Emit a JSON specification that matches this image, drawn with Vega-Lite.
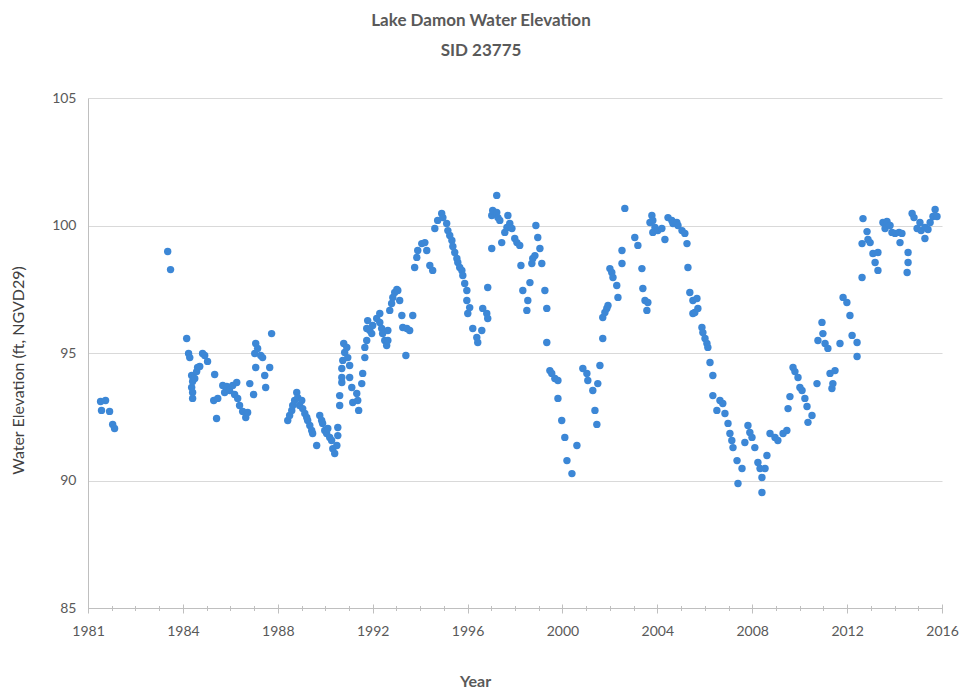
{
  "$schema": "https://vega.github.io/schema/vega-lite/v6.json",
  "width": 854,
  "height": 510,
  "autosize": {"type": "none"},
  "padding": {"left": 88, "top": 98, "right": 20, "bottom": 86},
  "background": "white",
  "config": {"font": "Lato", "view": {"stroke": null}},
  "title": {
    "text": ["Lake Damon Water Elevation", "SID 23775"],
    "fontSize": 17,
    "fontWeight": "bold",
    "color": "#595959",
    "anchor": "middle",
    "dx": -34,
    "lineHeight": 30,
    "offset": 31
  },
  "data": {
    "values": [
      {"year": 1981.53, "elevation": 93.10}, {"year": 1981.74, "elevation": 93.14}, {"year": 1981.57, "elevation": 92.75},
      {"year": 1981.91, "elevation": 92.71}, {"year": 1982.04, "elevation": 92.20}, {"year": 1982.12, "elevation": 92.04},
      {"year": 1984.36, "elevation": 98.98}, {"year": 1984.48, "elevation": 98.27},
      {"year": 1985.16, "elevation": 95.57}, {"year": 1985.24, "elevation": 94.98}, {"year": 1985.29, "elevation": 94.82},
      {"year": 1985.37, "elevation": 94.12}, {"year": 1985.37, "elevation": 93.65}, {"year": 1985.41, "elevation": 93.88},
      {"year": 1985.41, "elevation": 93.45}, {"year": 1985.41, "elevation": 93.22}, {"year": 1985.50, "elevation": 94.00},
      {"year": 1985.58, "elevation": 94.27}, {"year": 1985.62, "elevation": 94.43}, {"year": 1985.71, "elevation": 94.47},
      {"year": 1985.83, "elevation": 94.98}, {"year": 1985.92, "elevation": 94.90}, {"year": 1986.04, "elevation": 94.67},
      {"year": 1986.30, "elevation": 93.14}, {"year": 1986.34, "elevation": 94.16}, {"year": 1986.42, "elevation": 92.43},
      {"year": 1986.47, "elevation": 93.22}, {"year": 1986.68, "elevation": 93.73}, {"year": 1986.76, "elevation": 93.45},
      {"year": 1986.85, "elevation": 93.69}, {"year": 1986.97, "elevation": 93.53}, {"year": 1987.10, "elevation": 93.73},
      {"year": 1987.18, "elevation": 93.37}, {"year": 1987.27, "elevation": 93.84}, {"year": 1987.31, "elevation": 93.22},
      {"year": 1987.39, "elevation": 92.94}, {"year": 1987.52, "elevation": 92.71}, {"year": 1987.65, "elevation": 92.47},
      {"year": 1987.73, "elevation": 92.67}, {"year": 1987.82, "elevation": 93.80}, {"year": 1987.98, "elevation": 93.37},
      {"year": 1988.03, "elevation": 94.98}, {"year": 1988.07, "elevation": 95.37}, {"year": 1988.07, "elevation": 94.43},
      {"year": 1988.15, "elevation": 95.18}, {"year": 1988.28, "elevation": 94.90}, {"year": 1988.36, "elevation": 94.82},
      {"year": 1988.45, "elevation": 94.12}, {"year": 1988.49, "elevation": 93.65}, {"year": 1988.66, "elevation": 94.43},
      {"year": 1988.74, "elevation": 95.76},
      {"year": 1989.42, "elevation": 92.35}, {"year": 1989.50, "elevation": 92.55}, {"year": 1989.59, "elevation": 92.75},
      {"year": 1989.63, "elevation": 92.94}, {"year": 1989.71, "elevation": 93.14}, {"year": 1989.80, "elevation": 93.45},
      {"year": 1989.84, "elevation": 93.25}, {"year": 1989.92, "elevation": 92.94}, {"year": 1990.01, "elevation": 93.14},
      {"year": 1990.05, "elevation": 92.82}, {"year": 1990.14, "elevation": 92.63}, {"year": 1990.22, "elevation": 92.47},
      {"year": 1990.26, "elevation": 92.35}, {"year": 1990.35, "elevation": 92.16}, {"year": 1990.43, "elevation": 91.96},
      {"year": 1990.47, "elevation": 91.84}, {"year": 1990.64, "elevation": 91.37}, {"year": 1990.77, "elevation": 92.55},
      {"year": 1990.85, "elevation": 92.35}, {"year": 1990.89, "elevation": 92.24}, {"year": 1990.98, "elevation": 91.96},
      {"year": 1991.06, "elevation": 91.84}, {"year": 1991.11, "elevation": 92.04}, {"year": 1991.19, "elevation": 91.69},
      {"year": 1991.27, "elevation": 91.57}, {"year": 1991.32, "elevation": 91.25}, {"year": 1991.40, "elevation": 91.06},
      {"year": 1991.49, "elevation": 91.37}, {"year": 1991.53, "elevation": 91.76}, {"year": 1991.53, "elevation": 92.08},
      {"year": 1991.61, "elevation": 92.94}, {"year": 1991.61, "elevation": 93.33}, {"year": 1991.70, "elevation": 93.84},
      {"year": 1991.70, "elevation": 94.04}, {"year": 1991.70, "elevation": 94.39}, {"year": 1991.74, "elevation": 94.71},
      {"year": 1991.78, "elevation": 95.37}, {"year": 1991.82, "elevation": 95.02}, {"year": 1991.91, "elevation": 95.22},
      {"year": 1991.95, "elevation": 94.82}, {"year": 1992.03, "elevation": 94.51}, {"year": 1992.03, "elevation": 94.04},
      {"year": 1992.12, "elevation": 93.65}, {"year": 1992.16, "elevation": 93.06}, {"year": 1992.33, "elevation": 93.41},
      {"year": 1992.37, "elevation": 93.14}, {"year": 1992.41, "elevation": 92.75}, {"year": 1992.54, "elevation": 93.80},
      {"year": 1992.58, "elevation": 94.20}, {"year": 1992.67, "elevation": 94.82}, {"year": 1992.67, "elevation": 95.22},
      {"year": 1992.75, "elevation": 95.49}, {"year": 1992.75, "elevation": 95.96}, {"year": 1992.79, "elevation": 96.27},
      {"year": 1992.88, "elevation": 95.88}, {"year": 1992.96, "elevation": 95.76}, {"year": 1993.00, "elevation": 96.08},
      {"year": 1993.17, "elevation": 96.35}, {"year": 1993.30, "elevation": 96.55}, {"year": 1993.30, "elevation": 96.20},
      {"year": 1993.38, "elevation": 95.96}, {"year": 1993.42, "elevation": 95.76}, {"year": 1993.51, "elevation": 95.49},
      {"year": 1993.59, "elevation": 95.29}, {"year": 1993.64, "elevation": 95.49}, {"year": 1993.64, "elevation": 95.88},
      {"year": 1993.72, "elevation": 96.67}, {"year": 1993.80, "elevation": 96.94}, {"year": 1993.85, "elevation": 97.18},
      {"year": 1993.93, "elevation": 97.37}, {"year": 1994.02, "elevation": 97.49}, {"year": 1994.06, "elevation": 97.45},
      {"year": 1994.14, "elevation": 97.06}, {"year": 1994.23, "elevation": 96.47}, {"year": 1994.27, "elevation": 96.00},
      {"year": 1994.40, "elevation": 94.90}, {"year": 1994.44, "elevation": 95.96}, {"year": 1994.56, "elevation": 95.88},
      {"year": 1994.69, "elevation": 96.47},
      {"year": 1994.77, "elevation": 98.35}, {"year": 1994.86, "elevation": 98.75}, {"year": 1994.90, "elevation": 99.02},
      {"year": 1995.07, "elevation": 99.29}, {"year": 1995.20, "elevation": 99.33}, {"year": 1995.28, "elevation": 99.02},
      {"year": 1995.41, "elevation": 98.43}, {"year": 1995.53, "elevation": 98.24}, {"year": 1995.62, "elevation": 99.88},
      {"year": 1995.74, "elevation": 100.20}, {"year": 1995.91, "elevation": 100.47}, {"year": 1995.96, "elevation": 100.31},
      {"year": 1996.12, "elevation": 100.08}, {"year": 1996.17, "elevation": 99.80}, {"year": 1996.25, "elevation": 99.61},
      {"year": 1996.34, "elevation": 99.41}, {"year": 1996.38, "elevation": 99.18}, {"year": 1996.46, "elevation": 98.94},
      {"year": 1996.55, "elevation": 98.71}, {"year": 1996.59, "elevation": 98.55}, {"year": 1996.67, "elevation": 98.35},
      {"year": 1996.76, "elevation": 98.24}, {"year": 1996.80, "elevation": 98.04}, {"year": 1996.88, "elevation": 97.73},
      {"year": 1996.97, "elevation": 97.45}, {"year": 1996.97, "elevation": 97.06}, {"year": 1997.01, "elevation": 96.55},
      {"year": 1997.09, "elevation": 96.78}, {"year": 1997.22, "elevation": 95.96}, {"year": 1997.39, "elevation": 95.61},
      {"year": 1997.43, "elevation": 95.41}, {"year": 1997.60, "elevation": 95.88}, {"year": 1997.64, "elevation": 96.75},
      {"year": 1997.81, "elevation": 96.55}, {"year": 1997.85, "elevation": 96.35}, {"year": 1997.85, "elevation": 97.57},
      {"year": 1998.02, "elevation": 99.10}, {"year": 1998.02, "elevation": 100.39}, {"year": 1998.06, "elevation": 100.59},
      {"year": 1998.23, "elevation": 101.18}, {"year": 1998.23, "elevation": 100.51}, {"year": 1998.28, "elevation": 100.31},
      {"year": 1998.36, "elevation": 100.20}, {"year": 1998.44, "elevation": 99.33}, {"year": 1998.57, "elevation": 99.73},
      {"year": 1998.66, "elevation": 99.92}, {"year": 1998.70, "elevation": 100.39}, {"year": 1998.78, "elevation": 100.08},
      {"year": 1998.87, "elevation": 99.88}, {"year": 1998.99, "elevation": 99.49}, {"year": 1999.08, "elevation": 99.33},
      {"year": 1999.20, "elevation": 99.22}, {"year": 1999.25, "elevation": 98.43}, {"year": 1999.33, "elevation": 97.45},
      {"year": 1999.50, "elevation": 96.67}, {"year": 1999.54, "elevation": 97.06}, {"year": 1999.63, "elevation": 97.76},
      {"year": 1999.71, "elevation": 98.51}, {"year": 1999.75, "elevation": 98.71}, {"year": 1999.84, "elevation": 98.82},
      {"year": 1999.88, "elevation": 100.00}, {"year": 1999.96, "elevation": 99.53}, {"year": 2000.05, "elevation": 99.10},
      {"year": 2000.13, "elevation": 98.51}, {"year": 2000.26, "elevation": 97.45}, {"year": 2000.34, "elevation": 96.75},
      {"year": 2000.34, "elevation": 95.41}, {"year": 2000.47, "elevation": 94.31}, {"year": 2000.55, "elevation": 94.20},
      {"year": 2000.68, "elevation": 94.00}, {"year": 2000.81, "elevation": 93.92}, {"year": 2000.81, "elevation": 93.22},
      {"year": 2000.97, "elevation": 92.35}, {"year": 2001.10, "elevation": 91.69}, {"year": 2001.19, "elevation": 90.78},
      {"year": 2001.40, "elevation": 90.27}, {"year": 2001.61, "elevation": 91.37}, {"year": 2001.86, "elevation": 94.39},
      {"year": 2002.03, "elevation": 94.20}, {"year": 2002.07, "elevation": 93.92}, {"year": 2002.28, "elevation": 93.53},
      {"year": 2002.37, "elevation": 92.75}, {"year": 2002.45, "elevation": 92.20}, {"year": 2002.49, "elevation": 93.80},
      {"year": 2002.58, "elevation": 94.51}, {"year": 2002.70, "elevation": 95.57}, {"year": 2002.70, "elevation": 96.39},
      {"year": 2002.79, "elevation": 96.59}, {"year": 2002.87, "elevation": 96.75}, {"year": 2002.92, "elevation": 96.86},
      {"year": 2003.00, "elevation": 98.31}, {"year": 2003.08, "elevation": 98.16}, {"year": 2003.13, "elevation": 97.96},
      {"year": 2003.29, "elevation": 97.65}, {"year": 2003.34, "elevation": 97.18}, {"year": 2003.51, "elevation": 98.51},
      {"year": 2003.51, "elevation": 99.02}, {"year": 2003.63, "elevation": 100.67}, {"year": 2004.05, "elevation": 99.53},
      {"year": 2004.18, "elevation": 99.22}, {"year": 2004.35, "elevation": 98.31}, {"year": 2004.39, "elevation": 97.53},
      {"year": 2004.48, "elevation": 97.06}, {"year": 2004.56, "elevation": 96.67}, {"year": 2004.60, "elevation": 96.98},
      {"year": 2004.69, "elevation": 100.12}, {"year": 2004.77, "elevation": 100.39}, {"year": 2004.81, "elevation": 100.20},
      {"year": 2004.81, "elevation": 99.73}, {"year": 2004.90, "elevation": 99.92}, {"year": 2005.02, "elevation": 99.80},
      {"year": 2005.19, "elevation": 99.88}, {"year": 2005.32, "elevation": 99.45}, {"year": 2005.45, "elevation": 100.31},
      {"year": 2005.61, "elevation": 100.20}, {"year": 2005.66, "elevation": 100.08}, {"year": 2005.82, "elevation": 100.12},
      {"year": 2005.87, "elevation": 100.00}, {"year": 2006.04, "elevation": 99.80}, {"year": 2006.16, "elevation": 99.69},
      {"year": 2006.25, "elevation": 99.29}, {"year": 2006.29, "elevation": 98.35}, {"year": 2006.37, "elevation": 97.37},
      {"year": 2006.50, "elevation": 97.06}, {"year": 2006.50, "elevation": 96.55}, {"year": 2006.58, "elevation": 96.59},
      {"year": 2006.67, "elevation": 97.14}, {"year": 2006.71, "elevation": 96.75}, {"year": 2006.88, "elevation": 96.00},
      {"year": 2006.92, "elevation": 95.80}, {"year": 2007.01, "elevation": 95.57}, {"year": 2007.09, "elevation": 95.37},
      {"year": 2007.13, "elevation": 95.22}, {"year": 2007.22, "elevation": 94.63}, {"year": 2007.34, "elevation": 94.12},
      {"year": 2007.34, "elevation": 93.33}, {"year": 2007.51, "elevation": 92.75}, {"year": 2007.64, "elevation": 93.14},
      {"year": 2007.76, "elevation": 93.02}, {"year": 2007.85, "elevation": 92.63}, {"year": 2007.98, "elevation": 92.24},
      {"year": 2008.06, "elevation": 91.84}, {"year": 2008.14, "elevation": 91.57}, {"year": 2008.19, "elevation": 91.29},
      {"year": 2008.36, "elevation": 90.78}, {"year": 2008.40, "elevation": 89.88}, {"year": 2008.57, "elevation": 90.47},
      {"year": 2008.69, "elevation": 91.49}, {"year": 2008.82, "elevation": 92.16}, {"year": 2008.90, "elevation": 91.88},
      {"year": 2008.99, "elevation": 91.69}, {"year": 2009.11, "elevation": 91.29}, {"year": 2009.24, "elevation": 90.71},
      {"year": 2009.33, "elevation": 90.47}, {"year": 2009.41, "elevation": 90.12}, {"year": 2009.41, "elevation": 89.53},
      {"year": 2009.54, "elevation": 90.47}, {"year": 2009.62, "elevation": 90.98}, {"year": 2009.75, "elevation": 91.84},
      {"year": 2009.96, "elevation": 91.69}, {"year": 2010.08, "elevation": 91.57}, {"year": 2010.30, "elevation": 91.84},
      {"year": 2010.46, "elevation": 91.96}, {"year": 2010.51, "elevation": 92.82}, {"year": 2010.59, "elevation": 93.29},
      {"year": 2010.72, "elevation": 94.43}, {"year": 2010.80, "elevation": 94.27}, {"year": 2010.93, "elevation": 94.04},
      {"year": 2011.01, "elevation": 93.65}, {"year": 2011.10, "elevation": 93.53}, {"year": 2011.22, "elevation": 93.22},
      {"year": 2011.31, "elevation": 92.90}, {"year": 2011.35, "elevation": 92.28}, {"year": 2011.52, "elevation": 92.55},
      {"year": 2011.73, "elevation": 93.80}, {"year": 2011.77, "elevation": 95.49}, {"year": 2011.94, "elevation": 96.20},
      {"year": 2011.98, "elevation": 95.76}, {"year": 2012.07, "elevation": 95.37}, {"year": 2012.19, "elevation": 95.18},
      {"year": 2012.28, "elevation": 94.20}, {"year": 2012.36, "elevation": 93.61}, {"year": 2012.40, "elevation": 93.80},
      {"year": 2012.49, "elevation": 94.31}, {"year": 2012.70, "elevation": 95.37}, {"year": 2012.83, "elevation": 97.18},
      {"year": 2012.99, "elevation": 96.98}, {"year": 2013.12, "elevation": 96.47}, {"year": 2013.21, "elevation": 95.69},
      {"year": 2013.42, "elevation": 95.41}, {"year": 2013.42, "elevation": 94.86},
      {"year": 2013.63, "elevation": 97.96}, {"year": 2013.63, "elevation": 99.29}, {"year": 2013.67, "elevation": 100.27},
      {"year": 2013.84, "elevation": 99.76}, {"year": 2013.88, "elevation": 99.45}, {"year": 2013.97, "elevation": 99.33},
      {"year": 2014.09, "elevation": 98.90}, {"year": 2014.18, "elevation": 98.55}, {"year": 2014.30, "elevation": 98.94},
      {"year": 2014.30, "elevation": 98.24}, {"year": 2014.51, "elevation": 100.12}, {"year": 2014.60, "elevation": 99.88},
      {"year": 2014.68, "elevation": 100.16}, {"year": 2014.81, "elevation": 100.00}, {"year": 2014.89, "elevation": 99.73},
      {"year": 2015.02, "elevation": 99.69}, {"year": 2015.19, "elevation": 99.73}, {"year": 2015.31, "elevation": 99.69},
      {"year": 2015.23, "elevation": 99.33}, {"year": 2015.53, "elevation": 98.16}, {"year": 2015.57, "elevation": 98.94},
      {"year": 2015.57, "elevation": 98.55}, {"year": 2015.74, "elevation": 100.47}, {"year": 2015.82, "elevation": 100.31},
      {"year": 2015.95, "elevation": 99.88}, {"year": 2016.07, "elevation": 100.12}, {"year": 2016.12, "elevation": 99.80},
      {"year": 2016.28, "elevation": 99.92}, {"year": 2016.28, "elevation": 99.49}, {"year": 2016.41, "elevation": 99.84},
      {"year": 2016.50, "elevation": 100.12}, {"year": 2016.62, "elevation": 100.35}, {"year": 2016.71, "elevation": 100.63},
      {"year": 2016.79, "elevation": 100.35}
    ]
  },
  "layer": [
    {
      "mark": {"type": "circle", "size": 55, "color": "#3c87d6", "opacity": 1},
      "encoding": {
        "x": {
          "field": "year",
          "type": "quantitative",
          "scale": {"domain": [1981, 2017], "nice": false, "zero": false},
          "axis": {
            "values": [1981, 1985, 1989, 1993, 1997, 2001, 2005, 2009, 2013, 2017],
            "labelExpr": "datum.value == 1981 ? '1981' : toString(datum.value - 1)",
            "title": "Year",
            "titleX": 387,
            "grid": false,
            "ticks": false,
            "tickSize": 0,
            "domainColor": "#bfbfbf",
            "labelFontSize": 14,
            "labelColor": "#595959",
            "labelPadding": 16,
            "labelFlush": false,
            "titleFontSize": 16,
            "titleFontWeight": "bold",
            "titleColor": "#595959",
            "titlePadding": 35
          }
        },
        "y": {
          "field": "elevation",
          "type": "quantitative",
          "scale": {"domain": [85, 105], "nice": false, "zero": false},
          "axis": {
            "values": [85, 90, 95, 100, 105],
            "title": "Water Elevation (ft, NGVD29)",
            "titleY": 272,
            "grid": true,
            "gridColor": "#d9d9d9",
            "ticks": false,
            "tickSize": 0,
            "domainColor": "#bfbfbf",
            "labelFontSize": 14,
            "labelColor": "#595959",
            "labelPadding": 12,
            "titleFontSize": 16,
            "titleFontWeight": "normal",
            "titleColor": "#404040",
            "titlePadding": 25
          }
        }
      }
    },
    {
      "mark": {"type": "point", "opacity": 0},
      "encoding": {
        "x": {
          "field": "year",
          "type": "quantitative",
          "axis": {
            "orient": "bottom",
            "values": [1981, 1982, 1983, 1984, 1985, 1986, 1987, 1988, 1989, 1990, 1991, 1992, 1993, 1994, 1995, 1996, 1997, 1998, 1999, 2000, 2001, 2002, 2003, 2004, 2005, 2006, 2007, 2008, 2009, 2010, 2011, 2012, 2013, 2014, 2015, 2016, 2017],
            "labels": false,
            "domain": false,
            "grid": false,
            "title": null,
            "tickSize": 5,
            "offset": -2.5,
            "tickColor": "#bfbfbf"
          }
        }
      }
    },
    {
      "mark": {"type": "point", "opacity": 0},
      "encoding": {
        "x": {
          "field": "year",
          "type": "quantitative",
          "axis": {
            "orient": "bottom",
            "values": [1981, 1985, 1989, 1993, 1997, 2001, 2005, 2009, 2013, 2017],
            "labels": false,
            "domain": false,
            "grid": false,
            "title": null,
            "tickSize": 9,
            "offset": -4,
            "tickColor": "#bfbfbf"
          }
        }
      }
    }
  ],
  "resolve": {"axis": {"x": "independent"}}
}
